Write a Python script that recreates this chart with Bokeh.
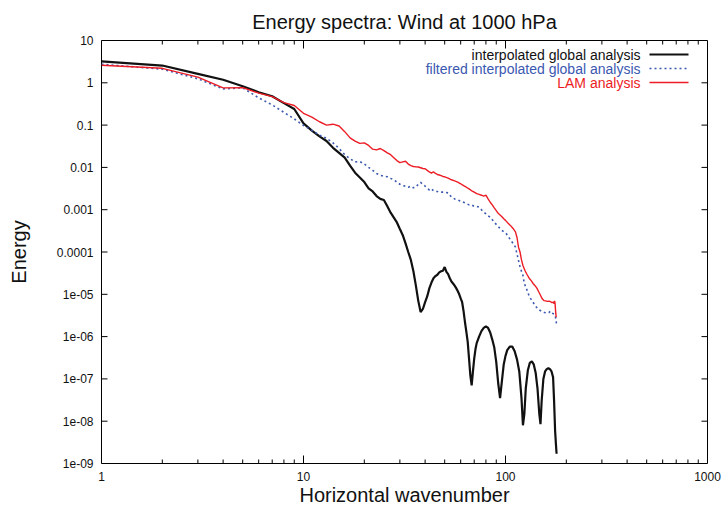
from bokeh.plotting import figure
from bokeh.models import FixedTicker, Label, PolyAnnotation
from bokeh.embed import file_html
from bokeh.resources import INLINE

# Interpolated global analysis spectrum
k_global = [1, 2, 3, 4, 5, 6, 7, 8, 9, 10, 11, 12, 13, 14, 15, 16, 17, 18, 19, 20,
            21, 22, 23, 24, 25, 26, 27, 28, 29, 30, 31, 32, 33, 34, 35, 36, 37, 38, 39, 40,
            41, 42, 43, 44, 45, 46, 47, 48, 49, 50, 51, 52, 53, 54, 55, 56, 57, 58, 59, 60,
            61, 62, 63, 64, 65, 66, 67, 68, 69, 70, 71, 72, 74, 76, 78, 80, 82, 84, 86, 88,
            90, 92, 94, 96, 98, 100, 102, 105, 108, 111, 114, 117, 120, 122, 124, 126, 129,
            132, 135, 138, 141, 144, 147, 149, 151, 154, 157, 160, 163, 166, 169, 172, 174,
            176, 178, 179]
e_global = [3.2, 2.56, 1.63, 1.18, 0.83, 0.60, 0.48, 0.33, 0.24, 0.11, 0.074, 0.054, 0.042,
            0.029, 0.022, 0.017, 0.011, 0.0075, 0.0058, 0.0045,
            0.0032, 0.0027, 0.0021, 0.0018, 0.0017, 0.0012, 0.00085, 0.00065, 0.0005, 0.00035,
            0.00025, 0.00016, 0.0001, 6.5e-5, 3.5e-5, 1.6e-5, 7e-6, 3.8e-6, 4.5e-6, 6.5e-6,
            9e-6, 1.4e-5, 1.9e-5, 2.4e-5, 2.7e-5, 2.9e-5, 3.3e-5, 3.5e-5, 3.6e-5, 4.4e-5,
            3.4e-5, 3.0e-5, 2.4e-5, 2.0e-5, 1.8e-5, 1.6e-5, 1.4e-5, 1.2e-5, 1.0e-5, 8.0e-6,
            6.5e-6, 4.0e-6, 2.2e-6, 1.3e-6, 7.5e-7, 3.0e-7, 1.2e-7, 7e-8, 1.5e-7, 3.0e-7,
            5.0e-7, 7.0e-7, 1.0e-6, 1.35e-6, 1.6e-6, 1.75e-6, 1.6e-6, 1.25e-6, 8.5e-7, 5.5e-7,
            2.5e-7, 8e-8, 3.5e-8, 9e-8, 2.2e-7, 3.5e-7, 4.8e-7, 5.8e-7, 5.8e-7, 4.5e-7,
            2.9e-7, 1.5e-7, 3.5e-8, 8e-9, 1.5e-8, 6e-8, 1.6e-7,
            2.4e-7, 2.6e-7, 2.2e-7, 1.4e-7, 6e-8, 1.5e-8, 8.5e-9, 3e-8, 1.0e-7, 1.5e-7,
            1.7e-7, 1.8e-7, 1.7e-7, 1.5e-7, 1.1e-7, 3e-8,
            6e-9, 2.5e-9, 1.7e-9]

# Filtered interpolated global analysis spectrum
k_filtered = [1, 2, 3, 4, 5, 6, 7, 8, 9, 10, 11, 12, 13, 14, 15, 16, 17, 18, 19, 20,
              21, 22, 23, 24, 25, 26, 27, 28, 29, 30, 31, 32, 33, 34, 35, 36, 37, 38, 39, 40,
              41, 42, 43, 44, 45, 46, 47, 48, 50, 52, 54, 56, 58, 60, 62, 64, 66, 68, 70, 72,
              74, 76, 78, 80, 82, 84, 86, 88, 90, 92, 95, 98, 101, 104, 107, 110, 112, 114,
              116, 118, 120, 122, 124, 127, 130, 133, 136, 140, 144, 148, 152, 156, 160, 164,
              167, 170, 174, 176, 178, 179]
e_filtered = [2.75, 2.1, 1.24, 0.72, 0.76, 0.44, 0.30, 0.20, 0.14, 0.098, 0.075, 0.058, 0.049,
              0.038, 0.028, 0.020, 0.016, 0.0135, 0.0138, 0.012,
              0.0100, 0.0085, 0.0072, 0.0065, 0.0062, 0.0060, 0.0055, 0.0051, 0.0045, 0.0040,
              0.0037, 0.0036, 0.0034, 0.0036, 0.0033, 0.0034, 0.0040, 0.0044, 0.0040, 0.0036,
              0.0033, 0.0029, 0.0031, 0.0028, 0.0027, 0.0027, 0.0026, 0.0026, 0.0026, 0.0025,
              0.0020, 0.0018, 0.0017, 0.0016, 0.0015, 0.0014, 0.0013, 0.0013, 0.0012, 0.0012,
              0.00115, 0.00100, 0.00088, 0.00080, 0.00072, 0.00066, 0.00058, 0.00050, 0.00045,
              0.00040, 0.00034, 0.00030, 0.00027, 0.00022, 0.00018, 0.00015, 0.00013, 9e-5,
              6.3e-5, 4.5e-5, 3.5e-5, 2.8e-5, 1.8e-5, 1.35e-5, 1.0e-5, 8e-6, 6.8e-6, 5.5e-6,
              4.6e-6, 4.2e-6, 3.9e-6, 3.7e-6, 3.6e-6, 3.7e-6,
              4.0e-6, 3.6e-6, 3.4e-6, 3.2e-6, 2.5e-6, 1.8e-6]

# LAM analysis spectrum
k_lam = [1, 2, 3, 4, 5, 6, 7, 8, 9, 10, 11, 12, 13, 14, 15, 16, 17, 18, 19, 20,
         21, 22, 23, 24, 25, 26, 27, 28, 29, 30, 31, 32, 33, 34, 35, 36, 37, 38, 39, 40,
         41, 42, 43, 44, 45, 46, 47, 48, 49, 50, 52, 54, 56, 58, 60, 62, 64, 66, 68, 70,
         72, 74, 76, 78, 80, 82, 84, 86, 88, 90, 92, 94, 96, 98, 100, 103, 106, 109, 112,
         114, 116, 118, 120, 122, 125, 128, 131, 134, 137, 140, 143, 146, 149, 152, 155,
         158, 161, 164, 167, 170, 172, 174, 175, 176, 177, 178, 179]
e_lam = [2.6, 2.2, 1.36, 0.76, 0.77, 0.57, 0.47, 0.34, 0.29, 0.19, 0.155, 0.12, 0.10, 0.105,
         0.095, 0.07, 0.05, 0.042, 0.037, 0.038,
         0.033, 0.027, 0.026, 0.028, 0.025, 0.022, 0.02, 0.017, 0.0145, 0.013,
         0.0135, 0.014, 0.012, 0.011, 0.0105, 0.0103, 0.0102, 0.0098, 0.0094, 0.0093,
         0.0085, 0.0078, 0.0073, 0.0079, 0.0072, 0.0068, 0.0066, 0.0064, 0.0061, 0.0060,
         0.0056, 0.0051, 0.0048, 0.0045, 0.0041, 0.0037, 0.0034, 0.0031, 0.0028, 0.0026,
         0.0024, 0.0023, 0.0022, 0.0021, 0.0022, 0.0018, 0.0015, 0.0013, 0.0011, 0.00095,
         0.00082, 0.00075, 0.00068, 0.00061, 0.00056, 0.00048, 0.00042, 0.00036, 0.00030,
         0.00022, 0.00013, 0.0001, 6.5e-5, 4.8e-5, 3.6e-5, 2.9e-5, 2.4e-5, 2.1e-5, 1.8e-5,
         1.6e-5, 1.4e-5, 1.15e-5, 9.5e-6, 7.8e-6, 7.1e-6,
         7.0e-6, 6.8e-6, 6.9e-6, 6.7e-6, 6.3e-6, 6.6e-6, 6.0e-6, 7.0e-6, 6.0e-6, 4e-6, 3e-6, 2.9e-6]

x_ticks = [1, 10, 100, 1000]
x_minor_ticks = [m * d for d in (1, 10, 100) for m in range(2, 10)]
y_ticks = [10, 1, 0.1, 0.01, 0.001, 0.0001, 1e-5, 1e-6, 1e-7, 1e-8, 1e-9]
y_tick_labels = ["10", "1", "0.1", "0.01", "0.001", "0.0001",
                 "1e-05", "1e-06", "1e-07", "1e-08", "1e-09"]
series_names = ["interpolated global analysis", "filtered interpolated global analysis", "LAM analysis"]

FONT = "Liberation Sans"
BLACK = "#111111"
BLUE = "#3a58b0"
RED = "#ec1c24"

X_MIN, X_MAX = 1, 1000
Y_MIN, Y_MAX = 1e-9, 10
FRAME_W, FRAME_H = 606, 423

p = figure(width=726, height=508, x_axis_type="log", y_axis_type="log",
           x_range=(X_MIN, X_MAX), y_range=(Y_MIN, Y_MAX),
           output_backend="svg", toolbar_location=None,
           min_border_left=101, min_border_right=19, min_border_top=40, min_border_bottom=45,
           title="Energy spectra: Wind at 1000 hPa")
p.title.align = "center"
p.title.text_font = FONT
p.title.text_font_size = "20px"
p.title.text_font_style = "normal"
p.title.text_color = "#111111"
p.title.standoff = 16
p.grid.visible = False
p.outline_line_color = "black"
p.outline_line_width = 1
p.background_fill_color = "white"
p.border_fill_color = "white"

for ax in (p.xaxis[0], p.yaxis[0]):
    ax.axis_line_color = None
    ax.major_tick_in = 0
    ax.major_tick_out = 0
    ax.minor_tick_in = 0
    ax.minor_tick_out = 0
    ax.major_label_text_font = FONT
    ax.major_label_text_font_size = "12px"
    ax.major_label_text_color = "#111111"
    ax.major_label_standoff = 8
    ax.axis_label_text_font = FONT
    ax.axis_label_text_font_size = "20px"
    ax.axis_label_text_font_style = "normal"
    ax.axis_label_text_color = "#111111"

p.xaxis.ticker = FixedTicker(ticks=x_ticks, minor_ticks=[])
p.yaxis.ticker = FixedTicker(ticks=y_ticks, minor_ticks=[])
p.xaxis.major_label_overrides = {t: str(t) for t in x_ticks}
p.yaxis.major_label_overrides = {t: lab for t, lab in zip(y_ticks, y_tick_labels)}
p.xaxis.axis_label = "Horizontal wavenumber"
p.yaxis.axis_label = "Energy"
p.xaxis.axis_label_standoff = 0
p.yaxis.axis_label_standoff = 24

# inward tick marks on all four sides of the frame, lengths given in pixels
dec_x = FRAME_W / 3.0     # pixels per decade along x
dec_y = FRAME_H / 10.0    # pixels per decade along y


def tick_marks(values, length, axis):
    x0, y0, x1, y1 = [], [], [], []
    for v in values:
        if axis == "x":
            f = 10 ** (length / dec_y)
            x0 += [v, v]; x1 += [v, v]
            y0 += [Y_MIN, Y_MAX]; y1 += [Y_MIN * f, Y_MAX / f]
        else:
            f = 10 ** (length / dec_x)
            y0 += [v, v]; y1 += [v, v]
            x0 += [X_MIN, X_MAX]; x1 += [X_MIN * f, X_MAX / f]
    p.segment(x0=x0, y0=y0, x1=x1, y1=y1, line_color="black", line_width=1)


tick_marks(x_ticks, 8, "x")
tick_marks(x_minor_ticks, 4, "x")
tick_marks(y_ticks, 6, "y")

p.line(k_global, e_global, line_color=BLACK, line_width=2.2)
p.line(k_filtered, e_filtered, line_color=BLUE, line_width=1.6, line_dash="2 3")
p.line(k_lam, e_lam, line_color=RED, line_width=1.4)

# key in the upper right corner: right-aligned label with its line sample after it
# (screen units here are measured from the frame's lower left corner)
key_styles = [(BLACK, 2.2, "solid"), (BLUE, 1.6, "2 3"), (RED, 1.4, "solid")]
for i, (name, (col, lw, dash)) in enumerate(zip(series_names, key_styles)):
    sy = 409 - i * 14
    p.add_layout(Label(x=539, y=sy, x_units="screen", y_units="screen", text=name,
                       text_align="right", text_baseline="middle", text_font=FONT,
                       text_font_size="14px", text_color=col))
    p.add_layout(PolyAnnotation(xs=[548, 587], ys=[sy, sy], xs_units="screen", ys_units="screen",
                                line_color=col, line_alpha=1.0, line_width=lw, line_dash=dash,
                                fill_color=None))

open("out.html", "w").write(file_html(p, INLINE))
